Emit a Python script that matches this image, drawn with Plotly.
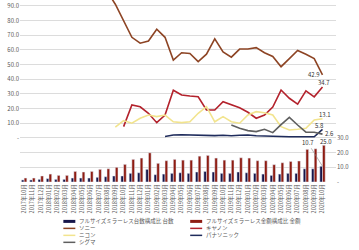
import plotly.graph_objects as go

months = ["2017年10月", "2017年11月", "2017年12月", "2018年01月", "2018年02月", "2018年03月",
          "2018年04月", "2018年05月", "2018年06月", "2018年07月", "2018年08月", "2018年09月",
          "2018年10月", "2018年11月", "2018年12月", "2019年01月", "2019年02月", "2019年03月",
          "2019年04月", "2019年05月", "2019年06月", "2019年07月", "2019年08月", "2019年09月",
          "2019年10月", "2019年11月", "2019年12月", "2020年01月", "2020年02月", "2020年03月",
          "2020年04月", "2020年05月", "2020年06月", "2020年07月", "2020年08月", "2020年09月",
          "2020年10月"]

unit_share = [1.4, 1.4, 1.8, 2.3, 1.8, 1.8, 2.7, 2.7, 2.7, 3.2, 3.6, 4.1, 4.1, 5.9, 6.3, 8.6, 5.0, 5.4, 5.9,
              6.3, 5.9, 6.8, 7.2, 6.8, 5.9, 5.9, 6.8, 6.3, 5.9, 5.4, 4.5, 5.4, 5.9, 5.9, 9.0, 9.0, 10.7]
value_share = [2.7, 2.7, 4.1, 5.4, 4.5, 4.5, 7.2, 6.8, 7.2, 8.6, 9.0, 10.0, 12.0, 15.4, 16.3, 19.9, 12.7, 14.5, 15.4,
               14.9, 14.9, 17.6, 18.1, 16.3, 14.9, 14.9, 16.5, 16.3, 14.5, 14.5, 11.8, 13.1, 14.0, 14.3, 22.2, 22.6, 25.0]

N = None
sony = [100, 100, 100, 100, 100, 100, 100, 100, 100, 100, 100, 91, 80, 68.5, 64.5, 66, 74, 68.5, 53,
        58, 57.5, 52, 57, 67.5, 58.5, 55, 60.5, 60.5, 61.5, 58, 55.5, 48.5, 54, 59.5, 57, 54, 42.9]
canon = [N, N, N, N, N, N, N, N, N, N, N, N, 7.7, 22.4, 21.2, 16.8, 10.4, 15.6, 32.5,
         29.2, 28.5, 28, 19, 19, 24.6, 22.4, 20.5, 17.5, 13.4, 15.6, 21, 32.6, 27, 23, 32, 28, 34.7]
nikon = [N, N, N, N, N, N, N, N, N, N, N, 7.3, 11.8, 10, 13.4, 15.6, 14.5, 15.6, 11,
         10.4, 11, 16.8, 21.3, 11, 14.5, 11, 10, 15.6, 17.9, 17.2, 15.6, 7.7, 5.4, 5.9, 6.6, 12.2, 13.1]
panasonic = [N, N, N, N, N, N, N, N, N, N, N, N, N, N, N, N, N, 1.0, 2.0,
             2.2, 2.0, 1.8, 1.8, 1.6, 1.8, 1.5, 1.8, 2.0, 1.5, 1.2, 1.0, 1.0, 0.8, 0.8, 0.8, 0.8, 5.8]
sigma = [N, N, N, N, N, N, N, N, N, N, N, N, N, N, N, N, N, N, N,
         N, N, N, N, N, N, 8.8, 6.6, 5.0, 4.3, 5.9, 3.6, 9.0, 14.0, 8.8, 3.9, 3.9, 2.6]

left_ticks = [-30, -20, -10, 0, 10, 20, 30, 40, 50, 60, 70, 80, 90]
left_text = ["", "", "", "-", "10.0", "20.0", "30.0", "40.0", "50.0", "60.0", "70.0", "80.0", "90.0"]
right_ticks = [0, 10, 20, 30]
right_text = ["-", "10.0", "20.0", "30.0"]

C_UNIT = "#16164a"
C_VALUE = "#8e1c12"
C_SONY = "#8d4424"
C_CANON = "#b3222c"
C_NIKON = "#f2e48e"
C_PANA = "#1f2c5c"
C_SIGMA = "#5f5f5f"

FONT = "Noto Sans CJK JP"
TXT = "#595959"

fig = go.Figure()
fig.add_trace(go.Bar(x=months, y=unit_share, marker_color=C_UNIT, yaxis="y2",
                     name="フルサイズミラーレス台数構成比 台数", showlegend=False))
fig.add_trace(go.Bar(x=months, y=value_share, marker_color=C_VALUE, yaxis="y2",
                     name="フルサイズミラーレス金額構成比 金額", showlegend=False))

for name, ys, col in [("ソニー", sony, C_SONY), ("キヤノン", canon, C_CANON), ("ニコン", nikon, C_NIKON),
                      ("パナソニック", panasonic, C_PANA), ("シグマ", sigma, C_SIGMA)]:
    fig.add_trace(go.Scatter(x=months, y=ys, mode="lines", name=name, showlegend=False,
                             line=dict(color=col, width=1.6), yaxis="y"))

lab_font = dict(family=FONT, size=6, color="#333333")
ann = []
last = months[-1]
ann.append(dict(x=last, y=sony[-1], text=f"{sony[-1]:.1f}", showarrow=False, xshift=-9, yshift=0, font=lab_font))
ann.append(dict(x=last, y=canon[-1], text=f"{canon[-1]:.1f}", showarrow=False, xshift=1, yshift=4, font=lab_font))
ann.append(dict(x=last, y=nikon[-1], text=f"{nikon[-1]:.1f}", showarrow=False, xshift=2, yshift=4, font=lab_font))
ann.append(dict(x=last, y=panasonic[-1], text=f"{panasonic[-1]:.1f}", showarrow=False, xshift=-3, yshift=4, font=lab_font))
ann.append(dict(x=last, y=sigma[-1], text=f"{sigma[-1]:.1f}", showarrow=False, xshift=7, yshift=1, font=lab_font))
ann.append(dict(x=last, y=unit_share[-1], yref="y2", text=f"{unit_share[-1]:.1f}", showarrow=True,
                arrowhead=0, arrowwidth=0.6, arrowcolor="#888888", ax=-15, ay=-24, font=lab_font))
ann.append(dict(x=last, y=value_share[-1], yref="y2", text=f"{value_share[-1]:.1f}", showarrow=False,
                xshift=3, yshift=4, font=lab_font))

# manual legend
PL, PW, PT, PH = 19.6, 316.4, 0.0, 182.5
def px(x):
    return (x - PL) / PW
def py(y):
    return (PH - y) / PH

legend_items = [
    (63, 222, C_UNIT, 3, "フルサイズミラーレス台数構成比 台数"),
    (190, 222, C_VALUE, 3, "フルサイズミラーレス金額構成比 金額"),
    (63, 229, C_SONY, 1.5, "ソニー"),
    (190, 229, C_CANON, 1.5, "キヤノン"),
    (63, 236, C_NIKON, 1.5, "ニコン"),
    (190, 236, C_PANA, 1.5, "パナソニック"),
    (63, 243, C_SIGMA, 1.5, "シグマ"),
]
shapes = []
for lx, ly, col, w, txt in legend_items:
    shapes.append(dict(type="line", xref="paper", yref="paper", x0=px(lx), x1=px(lx + 12),
                       y0=py(ly), y1=py(ly), line=dict(color=col, width=w)))
    ann.append(dict(xref="paper", yref="paper", x=px(lx + 14), y=py(ly), text=txt, showarrow=False,
                    xanchor="left", yanchor="middle", font=dict(family=FONT, size=5.5, color=TXT)))

fig.update_layout(
    width=359, height=250,
    margin=dict(l=PL, r=359 - PL - PW, t=PT, b=250 - PH),
    paper_bgcolor="white", plot_bgcolor="white",
    barmode="group", bargap=0.35, bargroupgap=0.0,
    showlegend=False,
    font=dict(family=FONT, size=6, color=TXT),
    xaxis=dict(type="category", tickangle=-90, tickfont=dict(size=5.5, color=TXT), ticks="",
               showgrid=False, showline=False, zeroline=False, tickson="labels"),
    yaxis=dict(range=[-30, 93.9], tickvals=left_ticks, ticktext=left_text, showgrid=True,
               gridcolor="#dcdcdc", gridwidth=0.8, zeroline=False, ticks="", tickfont=dict(size=6, color=TXT)),
    yaxis2=dict(range=[0, 123.9], overlaying="y", side="right", tickvals=right_ticks, ticktext=right_text,
                showgrid=False, zeroline=False, ticks="", tickfont=dict(size=6, color=TXT)),
    annotations=ann, shapes=shapes,
)

fig.write_html("out.html")
